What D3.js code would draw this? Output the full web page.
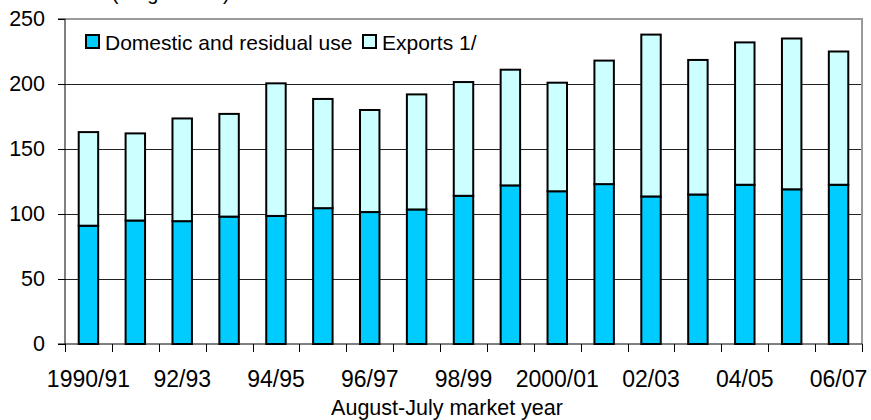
<!DOCTYPE html>
<html>
<head>
<meta charset="utf-8">
<script src="https://cdn.jsdelivr.net/npm/d3@7/dist/d3.min.js"></script>
<style>
  html, body { margin: 0; padding: 0; background: #fff; }
  svg { display: block; font-family: "Liberation Sans", Arial, sans-serif; }
</style>
</head>
<body>
<svg id="chart" width="871" height="420"></svg>
<script>
// U.S. rice use by market year (million cwt, rough-basis)
const categories = ["1990/91","91/92","92/93","93/94","94/95","95/96","96/97","97/98","98/99",
                    "99/00","2000/01","01/02","02/03","03/04","04/05","05/06","06/07"];
const tickLabels = ["1990/91","92/93","94/95","96/97","98/99","2000/01","02/03","04/05","06/07"];
const domestic = [91, 95, 94.5, 98, 98.5, 104.5, 101.5, 103.5, 114, 122, 117.5, 123, 113.5, 115, 122.5, 119, 122.5];
const exports_ = [72, 67, 79, 79, 102, 84, 78.5, 88.5, 87.5, 89, 83.5, 95, 124.5, 103.5, 109.5, 116, 102.5];
const seriesNames = ["Domestic and residual use", "Exports 1/"];
const yTicks = [0, 50, 100, 150, 200, 250];

(function draw() {
  const colors = { "Domestic and residual use": "#00CCFF", "Exports 1/": "#CCFFFF" };

  const svg = d3.select("#chart");
  const plotLeft = 65, plotRight = 862, plotTop = 19, plotBottom = 344;

  const x = d3.scaleBand().domain(categories).range([plotLeft, plotRight])
    .paddingInner(0.585).paddingOuter(0.2925);
  const xEdge = d3.scaleLinear().domain([0, categories.length]).range([plotLeft, plotRight]);
  const y = d3.scaleLinear().domain([0, 250]).range([plotBottom, plotTop]);

  // Horizontal gridlines
  svg.append("g").selectAll("line")
    .data(yTicks.filter(v => v > 0 && v < 250))
    .join("line")
    .attr("x1", plotLeft).attr("x2", plotRight)
    .attr("y1", d => Math.round(y(d)) + 0.5).attr("y2", d => Math.round(y(d)) + 0.5)
    .attr("stroke", "#222").attr("stroke-width", 1);

  // Top and right frame
  svg.append("line").attr("x1", plotLeft).attr("x2", plotRight + 1).attr("y1", y(250)).attr("y2", y(250))
    .attr("stroke", "#9a9a9a").attr("stroke-width", 2);
  svg.append("line").attr("x1", plotRight).attr("x2", plotRight).attr("y1", y(250)).attr("y2", plotBottom)
    .attr("stroke", "#9a9a9a").attr("stroke-width", 2);

  // Stacked bars
  const rows = categories.map((c, i) => ({
    cat: c, "Domestic and residual use": domestic[i], "Exports 1/": exports_[i]
  }));
  const stacked = d3.stack().keys(seriesNames)(rows);

  svg.append("g").selectAll("g")
    .data(stacked)
    .join("g")
    .attr("fill", d => colors[d.key])
    .selectAll("rect")
    .data(d => d)
    .join("rect")
    .attr("x", d => x(d.data.cat))
    .attr("width", x.bandwidth())
    .attr("y", d => y(d[1]))
    .attr("height", d => y(d[0]) - y(d[1]))
    .attr("stroke", "#000")
    .attr("stroke-width", 2);

  // Y axis
  const yAxis = svg.append("g")
    .attr("transform", `translate(${plotLeft},0)`)
    .call(d3.axisLeft(y).tickValues(yTicks).tickSize(7).tickPadding(13).tickFormat(d3.format("d")));
  yAxis.select(".domain").attr("stroke", "#000").attr("d", `M-7,${plotTop}H0V${plotBottom}`);
  yAxis.selectAll(".tick line").attr("stroke", "#000");
  yAxis.selectAll("text").attr("font-size", 21.5).attr("fill", "#000")
    .attr("font-family", "'Liberation Sans', Arial, sans-serif");

  // X axis line and boundary ticks
  svg.append("line").attr("x1", plotLeft - 7).attr("x2", plotRight).attr("y1", plotBottom).attr("y2", plotBottom)
    .attr("stroke", "#000").attr("stroke-width", 1);
  svg.append("g").selectAll("line")
    .data(d3.range(categories.length + 1))
    .join("line")
    .attr("x1", d => Math.round(xEdge(d)) + 0.5).attr("x2", d => Math.round(xEdge(d)) + 0.5)
    .attr("y1", plotBottom).attr("y2", plotBottom + 8)
    .attr("stroke", "#000").attr("stroke-width", 1);

  // X tick labels
  svg.append("g").selectAll("text")
    .data(tickLabels)
    .join("text")
    .attr("x", d => x(d) + x.bandwidth() / 2)
    .attr("y", 387)
    .attr("text-anchor", "middle")
    .attr("font-size", 23)
    .text(d => d);

  // X axis title
  svg.append("text")
    .attr("x", 447).attr("y", 415)
    .attr("text-anchor", "middle")
    .attr("font-size", 21.5)
    .text("August-July market year");

  // Unit label at the top
  svg.append("text")
    .attr("x", 14).attr("y", 0)
    .attr("font-size", 20)
    .text("Million cwt (rough-basis)");

  // Legend
  const legend = svg.append("g");
  const legendX = [86, 363];
  seriesNames.forEach((name, i) => {
    const g = legend.append("g").attr("transform", `translate(${legendX[i]},35)`);
    g.append("rect").attr("x", 0).attr("y", 0).attr("width", 13).attr("height", 13)
      .attr("fill", colors[name]).attr("stroke", "#000").attr("stroke-width", 2);
    g.append("text").attr("x", 19).attr("y", 14.5).attr("font-size", 21).text(name);
  });
})();
</script>
</body>
</html>
